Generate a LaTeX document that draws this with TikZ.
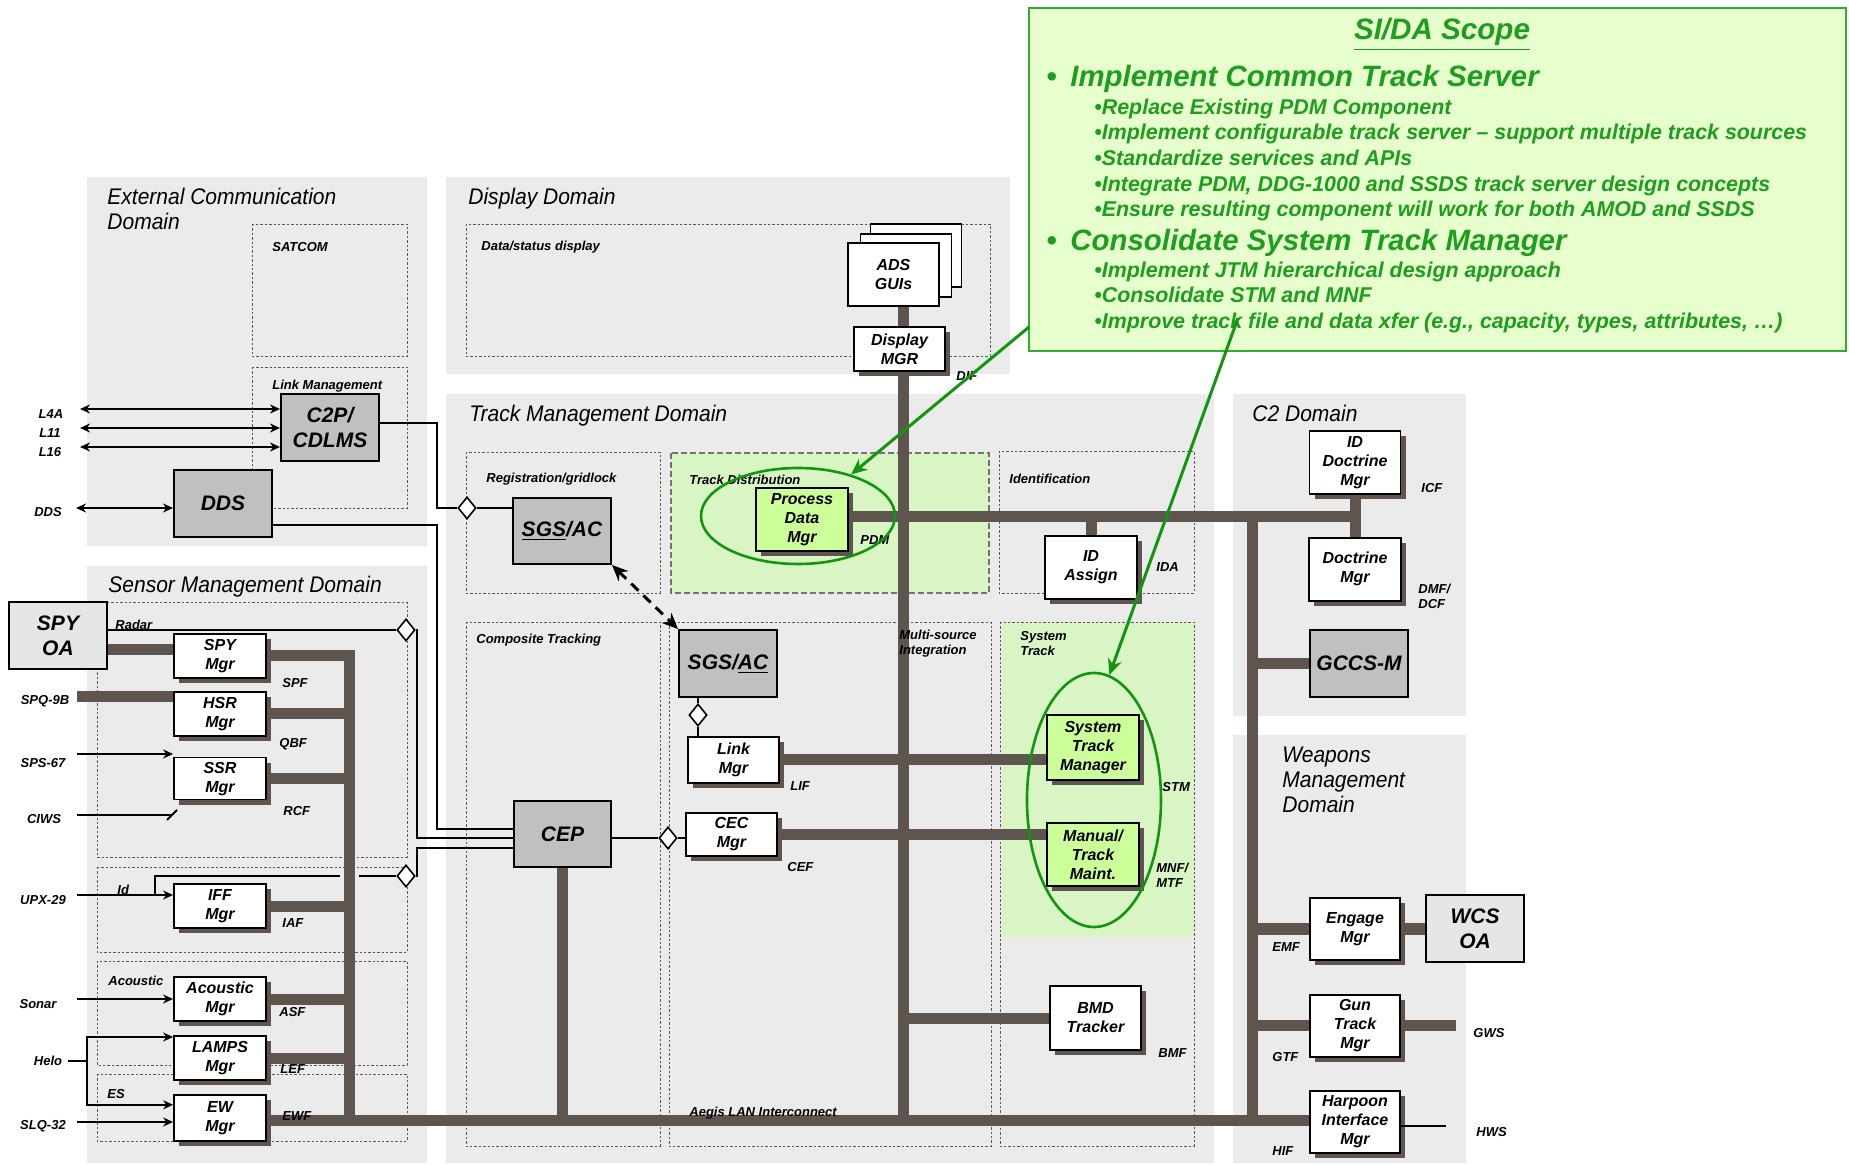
\documentclass[tikz,border=0pt]{standalone}
\usepackage{fontspec}
\setmainfont{Liberation Sans}
\newfontfamily\domfam{Liberation Sans}[FakeStretch=0.93]
\usetikzlibrary{positioning, arrows.meta, shapes.geometric, shadows, backgrounds}

\definecolor{dombg}{HTML}{EBEBEB}
\definecolor{boxgray}{HTML}{C0C0C0}
\definecolor{oagray}{HTML}{E6E6E6}
\definecolor{busc}{HTML}{5E564E}
\definecolor{tdgreen}{HTML}{D9F5C4}
\definecolor{pdmgreen}{HTML}{CCFF99}
\definecolor{sidafill}{HTML}{E6FFCC}
\definecolor{sidaline}{HTML}{33AA33}
\definecolor{sidatext}{HTML}{1E9E1E}
\definecolor{ringgreen}{HTML}{129612}

\newcommand\tagfont{\fontsize{6.5}{7.5}\selectfont\bfseries\itshape}
\newcommand\mgrfont{\fontsize{8}{9.5}\selectfont\bfseries\itshape}
\newcommand\bigboxfont{\fontsize{10.5}{12.5}\selectfont\bfseries\itshape}
\newcommand\domainfont{\domfam\fontsize{11.3}{12.5}\selectfont\itshape}
\newcommand\sidatitlefont{\fontsize{14.8}{17}\selectfont\bfseries\itshape}
\newcommand\sidahead{\fontsize{14.7}{17}\selectfont\bfseries\itshape}
\newcommand\sidasub{\fontsize{10.7}{12}\selectfont\bfseries\itshape}

\begin{document}
\begin{tikzpicture}[
    x=0.5pt, y=-0.5pt,
    dombox/.style={fill=dombg},
    subframe/.style={draw=black!65, line width=0.4pt, dash pattern=on 1.2pt off 1pt},
    sz/.style 2 args={minimum width=#1*0.5pt, minimum height=#2*0.5pt},
    mgr/.style={draw, line width=0.9pt, fill=white, align=center, inner sep=0pt, font=\mgrfont,
        drop shadow={shadow xshift=2.5pt, shadow yshift=-2.5pt, fill=busc, opacity=1}},
    pdmbox/.style={mgr, fill=pdmgreen},
    guibox/.style={draw, line width=0.9pt, fill=white, align=center, inner sep=0pt, font=\mgrfont},
    sysbox/.style={draw, line width=1pt, fill=boxgray, align=center, inner sep=0pt, font=\bigboxfont},
    oabox/.style={sysbox, fill=oagray},
    dia/.style={diamond, draw, fill=white, line width=0.8pt, inner sep=0pt, minimum width=9pt, minimum height=11pt},
    tag/.style={font=\tagfont, inner sep=0pt, anchor=west, align=left},
    edgetag/.style={font=\tagfont, inner sep=0pt},
    domtitle/.style={font=\domainfont, inner sep=0pt, align=left},
    bus/.style={draw=busc, line width=5.5pt},
    wire/.style={draw, line width=1pt},
    arrow/.style={wire, -{Stealth[length=5pt, width=4.5pt]}},
    dblarrow/.style={wire, {Stealth[length=5pt, width=4.5pt]}-{Stealth[length=5pt, width=4.5pt]}},
    ring/.style={draw=ringgreen, line width=1.3pt, inner sep=0pt},
    pointer/.style={draw=ringgreen, line width=1.5pt, -{Stealth[length=8pt, width=7pt]}},
    sida/.style={text=sidatext, inner sep=0pt, anchor=base west, font=\sidasub}
]
\useasboundingbox (0,0) rectangle (1849,1165);

\begin{scope}[on background layer]
\path[dombox] (87,177) rectangle (427,546);
\path[dombox] (446,177) rectangle (1010,374);
\path[dombox] (446,394) rectangle (1214,1163);
\path[dombox] (87,566) rectangle (427,1163);
\path[dombox] (1233,394) rectangle (1466,716);
\path[dombox] (1233,735) rectangle (1466,1163);
\path[fill=tdgreen] (671,453) rectangle (989,593);
\path[fill=tdgreen] (1002,622) rectangle (1194,937);
\draw[subframe] (252,224) rectangle (407,356);
\draw[subframe] (252,367) rectangle (407,508);
\draw[subframe] (466,224) rectangle (990,356);
\draw[subframe] (466,452) rectangle (660,593);
\draw[subframe, draw=black!55, line width=0.6pt, dash pattern=on 3pt off 1.5pt] (671,453) rectangle (989,593);
\draw[subframe] (999,451) rectangle (1194,593);
\draw[subframe] (466,622) rectangle (660,1146);
\draw[subframe] (669,622) rectangle (991,1146);
\draw[subframe] (1000,622) rectangle (1194,1146);
\draw[subframe] (97,602) rectangle (407,857);
\draw[subframe] (97,867) rectangle (407,952);
\draw[subframe] (97,961) rectangle (407,1065);
\draw[subframe] (97,1074) rectangle (407,1141);
\end{scope}

\node (c2p) [sysbox, sz={98}{67}] at (330,427.5) {C2P/\\CDLMS};
\node (dds) [sysbox, sz={98}{67}] at (223,503.5) {DDS};
\node (spyoa) [oabox, sz={98}{67}] at (58,635.5) {SPY\\OA};

\node (spymgr) [mgr, sz={92}{44}] at (220,656) {SPY\\Mgr};
\node (hsrmgr) [mgr, sz={92}{44}, below=6pt of spymgr] {HSR\\Mgr};
\node (ssrmgr) [mgr, sz={92}{42}, below=10pt of hsrmgr] {SSR\\Mgr};
\node (iffmgr) [mgr, sz={92}{44}, below=41.5pt of ssrmgr] {IFF\\Mgr};
\node (acomgr) [mgr, sz={92}{44}, below=23.5pt of iffmgr] {Acoustic\\Mgr};
\node (lampsmgr) [mgr, sz={92}{44}, below=6.5pt of acomgr] {LAMPS\\Mgr};
\node (ewmgr) [mgr, sz={92}{46}, below=6.5pt of lampsmgr] {EW\\Mgr};

\node (adsb2) [guibox, sz={91}{63}] at (916,255.5) {};
\node (adsb1) [guibox, sz={91}{63}] at (906,265.5) {};
\node (ads) [guibox, sz={91}{63}] at (893.5,274.5) {ADS\\GUIs};
\node (dispmgr) [mgr, sz={91}{44}] at (899.5,349) {Display\\MGR};

\node (sgs1) [sysbox, sz={98}{66}] at (562,531) {\underline{SGS}/AC};
\node (sgs2) [sysbox, sz={98}{67}] at (728,663.5) {SGS/\underline{AC}};
\node (cep) [sysbox, sz={97}{66}] at (562.5,834) {CEP};
\node (linkmgr) [mgr, sz={91}{46}] at (733.5,760) {Link\\Mgr};
\node (cecmgr) [mgr, sz={91}{43}] at (731.5,834.5) {CEC\\Mgr};
\node (pdm) [pdmbox, sz={92}{63}] at (802,519.5) {Process\\Data\\Mgr};
\node (idassign) [mgr, sz={92}{63}] at (1091,567.5) {ID\\Assign};
\node (stm) [pdmbox, sz={92}{65}] at (1093,747.5) {System\\Track\\Manager};
\node (mtm) [pdmbox, sz={92}{63}] at (1093,854.5) {Manual/\\Track\\Maint.};
\node (bmd) [mgr, sz={91}{64}] at (1095.5,1018) {BMD\\Tracker};

\node (iddoc) [mgr, sz={91}{63}] at (1355,462.5) {ID\\Doctrine\\Mgr};
\node (docmgr) [mgr, sz={92}{63}, below=21pt of iddoc] {Doctrine\\Mgr};
\node (gccs) [sysbox, sz={98}{67}] at (1359,663.5) {GCCS-M};

\node (engage) [mgr, sz={90}{62}] at (1355,929) {Engage\\Mgr};
\node (guntrk) [mgr, sz={90}{62}, below=16.5pt of engage] {Gun\\Track\\Mgr};
\node (harpoon) [mgr, sz={90}{62}, below=16pt of guntrk] {Harpoon\\Interface\\Mgr};
\node (wcsoa) [oabox, sz={98}{67}] at (1475,928.5) {WCS\\OA};

\coordinate (sbus) at (349,0);
\coordinate (mbus) at (903,0);
\coordinate (cbus) at (1252,0);
\coordinate (lan) at (0,1120);
\coordinate (pdmbus) at (0,517);
\coordinate (spqend) at (77,697);
\coordinate (gwsend) at (1456,0);
\coordinate (hwsend) at (1446,0);

\begin{scope}[on background layer]
\draw[bus] (mbus |- ads.south) -- (mbus |- lan);
\draw[bus] (ewmgr.east |- lan) -- (harpoon.west |- lan);
\draw[bus] (spymgr.east) -| (sbus |- lan);
\draw[bus] (hsrmgr.east) -- (hsrmgr.east -| sbus);
\draw[bus] (ssrmgr.east) -- (ssrmgr.east -| sbus);
\draw[bus] (iffmgr.east) -- (iffmgr.east -| sbus);
\draw[bus] (acomgr.east) -- (acomgr.east -| sbus);
\draw[bus] (lampsmgr.east) -- (lampsmgr.east -| sbus);
\draw[bus] ([yshift=3pt]spymgr.west) -- ([yshift=3pt]spymgr.west -| spyoa.east);
\draw[bus] (spqend) -- (spqend -| hsrmgr.west);
\draw[bus] (cep.south) -- (cep.south |- lan);
\draw[bus] (pdm.east |- pdmbus) -- (docmgr.north |- pdmbus);
\draw[bus] (iddoc.south) -- (docmgr.north);
\draw[bus] (idassign.north) -- (idassign.north |- pdmbus);
\draw[bus] (cbus |- pdmbus) -- (cbus |- lan);
\draw[bus] (gccs.west) -- (gccs.west -| cbus);
\draw[bus] (engage.west) -- (engage.west -| cbus);
\draw[bus] (engage.east) -- (engage.east -| wcsoa.west);
\draw[bus] (guntrk.west) -- (guntrk.west -| cbus);
\draw[bus] (guntrk.east) -- (guntrk.east -| gwsend);
\draw[bus] (linkmgr.east) -- (linkmgr.east -| stm.west);
\draw[bus] (cecmgr.east) -- (cecmgr.east -| mtm.west);
\draw[bus] (bmd.west) -- (bmd.west -| mbus);
\end{scope}

\coordinate (jx) at (437,0);
\coordinate (jr) at (417,0);
\coordinate (idsplit) at (155,895);
\coordinate (idgapL) at (340,876);
\coordinate (idgapR) at (359,876);
\coordinate (l4aend) at (80,409);
\coordinate (l11end) at (80,428);
\coordinate (l16end) at (80,447);
\coordinate (ddsend) at (76,508);
\coordinate (spsend) at (77,754);
\coordinate (ciwsend) at (77,815);
\coordinate (ciwscut) at (172,815);
\coordinate (upxend) at (77,895);
\coordinate (sonarend) at (77,999);
\coordinate (heloend) at (68,1061);
\coordinate (helofork) at (87,1061);
\coordinate (slqend) at (77,1122);

\node (dsgs) [dia] at (467,508) {};
\node (dradar) [dia] at (406,630) {};
\node (did) [dia] at (406,876) {};
\node (dcec) [dia] at (668,838) {};
\node (dlink) [dia] at (698,715) {};

\draw[wire] ([yshift=2pt]c2p.east) -| (jx |- dsgs) -- (dsgs.west);
\draw[wire] (dsgs.east) -- (dsgs.east -| sgs1.west);
\draw[wire] ([yshift=-11pt]dds.east) -| ([yshift=2.5pt]cep.west -| jx) -- ([yshift=2.5pt]cep.west);
\draw[wire] (dradar.west -| spyoa.east) -- (dradar.west);
\draw[wire] (dradar.east) -| ([yshift=-2pt]cep.west -| jr) -- ([yshift=-2pt]cep.west);
\draw[wire] (idsplit) |- (idgapL);
\draw[wire] (idgapR) -- (did.west);
\draw[wire] (did.east) -| ([yshift=-7pt]cep.west -| jr) -- ([yshift=-7pt]cep.west);
\draw[wire] ([yshift=-2pt]cep.east) -- (dcec.west);
\draw[wire] (dcec.east) -- (dcec.east -| cecmgr.west);
\draw[wire] (sgs2.south -| dlink) -- (dlink.north);
\draw[wire] (dlink.south) -- (dlink.south |- linkmgr.north);
\draw[line width=1.5pt, dash pattern=on 5pt off 3.5pt, {Stealth[length=8pt, width=7pt]}-{Stealth[length=8pt, width=7pt]}] (sgs1.south east) -- (sgs2.north west);

\draw[dblarrow] (l4aend) -- (l4aend -| c2p.west);
\draw[dblarrow] (l11end) -- (l11end -| c2p.west);
\draw[dblarrow] (l16end) -- (l16end -| c2p.west);
\draw[dblarrow] (ddsend) -- (ddsend -| dds.west);
\draw[arrow] (spsend) -- (spsend -| ssrmgr.west);
\draw[wire] (ciwsend) -- (ciwscut);
\draw[wire] ([shift={(-5,5)}]ciwscut) -- ([shift={(5,-5)}]ciwscut);
\draw[arrow] (upxend) -- (upxend -| iffmgr.west);
\draw[arrow] (sonarend) -- (sonarend -| acomgr.west);
\draw[wire] (heloend) -- (helofork);
\draw[arrow] (helofork) |- ([yshift=10.5pt]lampsmgr.west);
\draw[arrow] (helofork) |- ([yshift=6.5pt]ewmgr.west);
\draw[arrow] (slqend) -- (slqend -| ewmgr.west);
\draw[wire] ([yshift=-2pt]harpoon.east) -- ([yshift=-2pt]harpoon.east -| hwsend);

\node (extdom) [domtitle, anchor=west] at (107,209) {External Communication\\Domain};
\node (disdom) [domtitle, anchor=base west] at (468,205) {Display Domain};
\node (trkdom) [domtitle, anchor=base west] at (469,422) {Track Management Domain};
\node (sendom) [domtitle, anchor=base west] at (108,593) {Sensor Management Domain};
\node (c2dom) [domtitle, anchor=base west] at (1252,422) {C2 Domain};
\node (wpndom) [domtitle, anchor=west] at (1282,780) {Weapons\\Management\\Domain};

\node (satcom) [tag] at (272,247) {SATCOM};
\node (linkmgt) [tag] at (272,386) {Link Management};
\node (datastat) [tag] at (481,247) {Data/status display};
\node (reggrid) [tag] at (486,479) {Registration/gridlock};
\node (trkdist) [tag] at (689,480) {Track Distribution};
\node (ident) [tag] at (1009,479) {Identification};
\node (comptrk) [tag] at (476,640) {Composite Tracking};
\node (multisrc) [tag] at (899,644) {Multi-source\\Integration};
\node (systrk) [tag] at (1020,644) {System\\Track};
\node (aegis) [tag] at (689,1113) {Aegis LAN Interconnect};
\node (radar) [tag] at (115,625) {Radar};
\node (idlbl) [tag] at (117,890) {Id};
\node (acoust) [tag] at (108,981) {Acoustic};
\node (eslbl) [tag] at (107,1094) {ES};

\node (spf) [tag] at (282,683) {SPF};
\node (qbf) [tag] at (279,744) {QBF};
\node (rcf) [tag] at (283,811) {RCF};
\node (iaf) [tag] at (282,923) {IAF};
\node (asf) [tag] at (279,1012) {ASF};
\node (lef) [tag] at (280,1069) {LEF};
\node (ewf) [tag] at (282,1116) {EWF};
\node (dif) [tag] at (956,376) {DIF};
\node (pdmtag) [tag] at (860,540) {PDM};
\node (lif) [tag] at (790,786) {LIF};
\node (cef) [tag] at (787,867) {CEF};
\node (ida) [tag] at (1156,567) {IDA};
\node (stmtag) [tag] at (1162,787) {STM};
\node (mnf) [tag] at (1156,875) {MNF/\\MTF};
\node (bmf) [tag] at (1158,1053) {BMF};
\node (icf) [tag] at (1421,488) {ICF};
\node (dmf) [tag] at (1418,596) {DMF/\\DCF};
\node (emf) [tag] at (1272,947) {EMF};
\node (gtf) [tag] at (1272,1057) {GTF};
\node (hif) [tag] at (1272,1151) {HIF};
\node (gws) [tag] at (1473,1033) {GWS};
\node (hws) [tag] at (1476,1132) {HWS};

\node (l4a) [edgetag] at (51,414) {L4A};
\node (l11) [edgetag] at (50,433) {L11};
\node (l16) [edgetag] at (50,452) {L16};
\node (ddstag) [edgetag] at (48,512) {DDS};
\node (spq) [edgetag] at (45,701) {SPQ-9B};
\node (sps) [edgetag] at (43,763) {SPS-67};
\node (ciws) [edgetag] at (44,819) {CIWS};
\node (upx) [edgetag] at (43,900) {UPX-29};
\node (sonar) [edgetag] at (38,1004) {Sonar};
\node (helo) [edgetag] at (48,1061) {Helo};
\node (slq) [edgetag] at (43,1126) {SLQ-32};

\node (pdmring) [ring, ellipse, sz={194}{96}] at (798,516) {};
\node (stmring) [ring, ellipse, sz={134}{254}] at (1094,800) {};

\node (sidabox) [draw=sidaline, fill=sidafill, line width=1.2pt, inner sep=0pt, sz={817}{343}] at (1437.5,179.5) {};
\node (sidatitle) [sida, anchor=base, font=\sidatitlefont] at (1442,40) {\underline{SI/DA Scope}};
\node (item1) [sida, font=\sidahead] at (1046,87) {\makebox[12pt][l]{•}Implement Common Track Server};
\node (item1a) [sida] at (1094,115) {•Replace Existing PDM Component};
\node (item1b) [sida] at (1094,140) {•Implement configurable track server – support multiple track sources};
\node (item1c) [sida] at (1094,166) {•Standardize services and APIs};
\node (item1d) [sida] at (1094,192) {•Integrate PDM, DDG-1000 and SSDS track server design concepts};
\node (item1e) [sida] at (1094,217) {•Ensure resulting component will work for both AMOD and SSDS};
\node (item2) [sida, font=\sidahead] at (1046,251) {\makebox[12pt][l]{•}Consolidate System Track Manager};
\node (item2a) [sida] at (1094,278) {•Implement JTM hierarchical design approach};
\node (item2b) [sida] at (1094,303) {•Consolidate STM and MNF};
\node (item2c) [sida] at (1094,329) {•Improve track file and data xfer (e.g., capacity, types, attributes, …)};

\coordinate (sidaout1) at (1029,327);
\coordinate (sidaout2) at (1238,318);
\draw[pointer] (sidaout1) -- (pdmring.38);
\draw[pointer] (sidaout2) -- (stmring.83);
\end{tikzpicture}
\end{document}
